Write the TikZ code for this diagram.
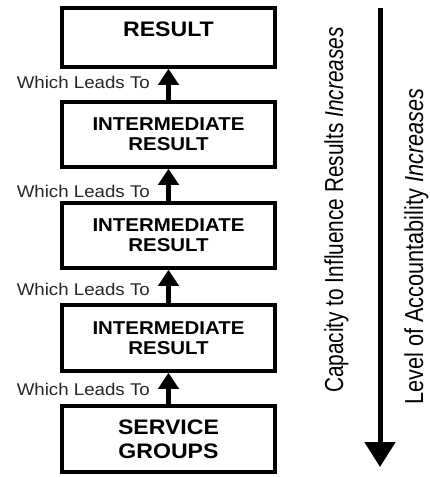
\documentclass[tikz,border=0pt]{standalone}
\usepackage{fontspec}
\setmainfont{Liberation Sans}
\newfontfamily\boxfont[FakeStretch=1.1]{Liberation Sans}
\newfontfamily\lblfont[FakeStretch=1.1]{Liberation Sans}
\newfontfamily\sidefont[FakeStretch=0.8]{Liberation Sans}
\newfontfamily\sidefontb[FakeStretch=0.835]{Liberation Sans}
\usetikzlibrary{arrows.meta}
\begin{document}
\begin{tikzpicture}[x=1pt,y=-1pt,
  box/.style={draw, line width=3.5pt, minimum width=213pt, inner sep=0pt, align=center},
  bigtxt/.style={font=\boxfont\bfseries\fontsize{21}{24}\selectfont},
  midtxt/.style={font=\boxfont\bfseries\fontsize{18.6}{20}\selectfont},
  lead/.style={line width=5pt, -{Triangle[width=20pt,length=16pt]}},
  leadlbl/.style={anchor=base east, inner sep=0pt, text=black!85, font=\lblfont\fontsize{17}{20}\selectfont},
  side/.style={rotate=90, anchor=base west, inner sep=0pt, font=\sidefont\fontsize{26}{30}\selectfont}]
\useasboundingbox (0,0) rectangle (430,477);
\node[box, bigtxt, minimum height=59pt, text height=15pt, text depth=16.6pt] (b1) at (168.5,37.5) {RESULT};
\node[box, midtxt, minimum height=65pt] (b2) at (168.5,134.5) {INTERMEDIATE\\RESULT};
\node[box, midtxt, minimum height=65pt] (b3) at (168.5,235.5) {INTERMEDIATE\\RESULT};
\node[box, midtxt, minimum height=66pt] (b4) at (168.5,338) {INTERMEDIATE\\RESULT};
\node[box, bigtxt, minimum height=66pt] (b5) at (168.5,439) {SERVICE\\GROUPS};
\draw[lead] (b2.north) -- (b1.south);
\draw[lead] (b3.north) -- (b2.south);
\draw[lead] (b4.north) -- (b3.south);
\draw[lead] (b5.north) -- (b4.south);
\node[leadlbl] (l1) at (150,88) {Which Leads To};
\node[leadlbl] (l2) at (150,197) {Which Leads To};
\node[leadlbl] (l3) at (150,295) {Which Leads To};
\node[leadlbl] (l4) at (150,395) {Which Leads To};
\coordinate (btop) at (380,8);
\coordinate (bbot) at (380,467);
\draw[line width=5pt, -{Triangle[width=30pt,length=25pt]}] (btop) -- (bbot);
\node[side] (cap) at (343,393) {Capacity to Influence Results \textit{Increases}};
\node[side, font=\sidefontb\fontsize{26}{30}\selectfont] (lev) at (423,405) {Level of Accountability \textit{Increases}};
\end{tikzpicture}
\end{document}
